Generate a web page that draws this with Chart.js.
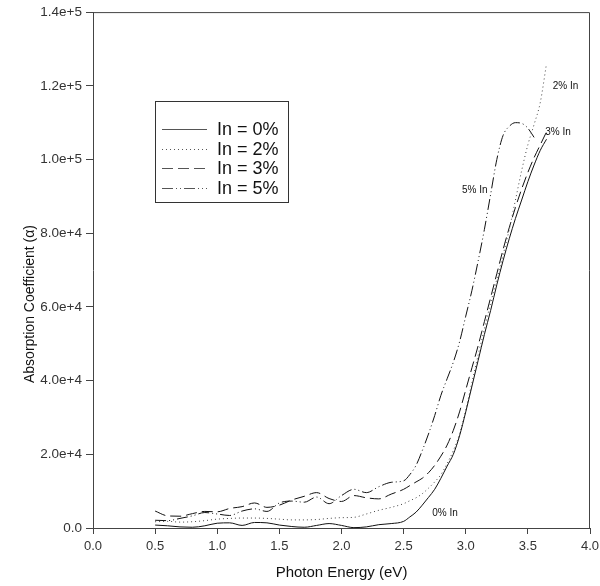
<!DOCTYPE html>
<html>
<head>
<meta charset="utf-8">
<script src="https://cdn.jsdelivr.net/npm/chart.js@4.4.0/dist/chart.umd.min.js"></script>
<style>
    body { margin: 0; background: #fff; }
</style>
</head>
<body>
<canvas id="myChart" width="600" height="586"></canvas>
<script>

var energy = [0.5, 0.6, 0.7, 0.8, 0.9, 1.0, 1.1, 1.2, 1.3, 1.4, 1.5, 1.6, 1.7, 1.8, 1.9, 2.0, 2.1, 2.2, 2.3, 2.4, 2.5,
    2.55, 2.6, 2.65, 2.7, 2.75, 2.8, 2.85, 2.9, 2.95, 3.0, 3.05, 3.1, 3.15, 3.2, 3.25, 3.3, 3.35, 3.4, 3.45, 3.5, 3.55, 3.6, 3.65];

var in0 = [800, 600, 300, 200, 600, 1300, 1400, 700, 1500, 1400, 800, 400, 200, 700, 1200, 700, 100, 300, 900, 1200, 1800,
    3000, 4300, 6200, 8300, 10500, 13500, 16800, 20000, 25000, 31500, 38500, 45500, 52500, 59000, 66000, 72500, 78500, 84000, 89000, 94000, 98500, 102500, 105500];

var in2 = [1700, 1800, 1600, 1700, 2000, 2400, 2600, 2700, 2700, 2600, 2400, 2200, 2200, 2300, 2600, 2800, 2900, 3800, 4800, 5600, 6600,
    7400, 8200, 9300, 10800, 12500, 14500, 17500, 21000, 25500, 32000, 39500, 47000, 54000, 61000, 67500, 74000, 81000, 89000, 97000, 104000, 109500, 115500, 126000];

var in3 = [4600, 3300, 3200, 3900, 4500, 4400, 5300, 5800, 6800, 5600, 6200, 7600, 8600, 9600, 8000, 7200, 8800, 8200, 7900, 9200, 10500,
    11500, 12500, 13500, 15000, 17000, 19500, 22500, 26500, 31500, 37500, 43500, 49500, 56000, 62500, 69000, 75500, 81500, 87000, 92000, 96500, 100500, 104000, 107500];

var in5 = [2100, 2000, 2600, 3300, 4200, 3800, 3400, 4600, 5200, 4500, 6800, 7300, 7000, 8400, 6600, 8800, 10500, 9600, 11200, 12400, 12800,
    14500, 17000, 21000, 25500, 30500, 36000, 40500, 45000, 50500, 57500, 64500, 72500, 81000, 90500, 100000, 106500, 109000, 110000, 109800, 108500, 106000, null, null];

var seriesNames = ['In = 0%', 'In = 2%', 'In = 3%', 'In = 5%'];
var seriesDash = [[], [1, 3], [11, 5], [11, 3, 1, 3, 1, 3]];

// small curve labels, placed in data units
var noteText = ['0% In', '2% In', '3% In', '5% In'];
var noteX = [2.73, 3.70, 3.64, 2.97];
var noteY = [4100, 119900, 107400, 91600];

function points(vals) {
    var pts = [];
    for (var i = 0; i != energy.length; i++) {
        if (vals[i] !== null) pts.push({ x: energy[i], y: vals[i] });
    }
    return pts;
}

var all = [in0, in2, in3, in5];
var datasets = [];
for (var j = 0; j != all.length; j++) {
    datasets.push({
        label: seriesNames[j],
        data: points(all[j]),
        borderColor: j == 1 ? '#444' : '#111',
        borderWidth: 1,
        borderDash: seriesDash[j],
        pointRadius: 0,
        fill: false,
        cubicInterpolationMode: 'monotone'
    });
}

var extras = {
    id: 'extras',
    afterDraw: function (chart) {
        var ctx = chart.ctx;
        var a = chart.chartArea;
        var xs = chart.scales.x;
        var ys = chart.scales.y;
        ctx.save();

        // frame top and right
        ctx.strokeStyle = '#444';
        ctx.lineWidth = 1;
        ctx.beginPath();
        ctx.moveTo(a.left, a.top + 0.5);
        ctx.lineTo(a.right - 0.5, a.top + 0.5);
        ctx.lineTo(a.right - 0.5, a.bottom);
        ctx.stroke();

        // y title
        ctx.fillStyle = '#111';
        ctx.font = '14px "Liberation Sans", Arial, sans-serif';
        ctx.textAlign = 'center';
        ctx.textBaseline = 'middle';
        ctx.translate(30, 304);
        ctx.rotate(-Math.PI / 2);
        ctx.fillText('Absorption Coefficient (\u03b1)', 0, 0);
        ctx.setTransform(1, 0, 0, 1, 0, 0);

        // notes
        ctx.font = '10px "Liberation Sans", Arial, sans-serif';
        ctx.textAlign = 'left';
        for (var i = 0; i != noteText.length; i++) {
            ctx.fillText(noteText[i], xs.getPixelForValue(noteX[i]), ys.getPixelForValue(noteY[i]));
        }

        // legend box
        ctx.strokeStyle = '#333';
        ctx.strokeRect(155.5, 101.5, 133, 101);
        ctx.font = '18px "Liberation Sans", Arial, sans-serif';
        for (var k = 0; k != chart.data.datasets.length; k++) {
            var ds = chart.data.datasets[k];
            var ly = 129 + k * 19.7;
            ctx.strokeStyle = '#555';
            ctx.setLineDash(ds.borderDash);
            ctx.beginPath();
            ctx.moveTo(162, Math.round(ly) + 0.5);
            ctx.lineTo(207, Math.round(ly) + 0.5);
            ctx.stroke();
            ctx.setLineDash([]);
            ctx.fillStyle = '#111';
            ctx.fillText(ds.label, 217, ly + 1);
        }
        ctx.restore();
    }
};

var config = {
    type: 'line',
    data: { datasets: datasets },
    options: {
        responsive: false,
        animation: false,
        layout: { padding: { top: 10, right: 0, left: 0, bottom: 0 } },
        plugins: {
            legend: { display: false },
            tooltip: { enabled: false }
        },
        scales: {
            x: {
                type: 'linear',
                min: 0,
                max: 4,
                ticks: {
                    stepSize: 0.5,
                    color: '#333',
                    font: { size: 13, family: '"Liberation Sans", Arial, sans-serif' },
                    padding: 5,
                    maxRotation: 0,
                    callback: function (v) { return v.toFixed(1); }
                },
                grid: { drawOnChartArea: false, drawTicks: true, tickLength: 6, color: '#444' },
                border: { color: '#444' },
                title: {
                    display: true,
                    text: 'Photon Energy (eV)',
                    color: '#111',
                    font: { size: 15, family: '"Liberation Sans", Arial, sans-serif' },
                    padding: { top: 4, bottom: 4 }
                },
                afterFit: function (s) { s.height = 58; s.paddingRight = 10; s.paddingLeft = 0; }
            },
            y: {
                min: 0,
                max: 140000,
                ticks: {
                    stepSize: 20000,
                    color: '#333',
                    font: { size: 13.5, family: '"Liberation Sans", Arial, sans-serif' },
                    padding: 4,
                    callback: function (v) { return v === 0 ? '0.0' : v.toExponential(1); }
                },
                grid: { drawOnChartArea: false, drawTicks: true, tickLength: 7, color: '#444' },
                border: { color: '#444' },
                afterFit: function (s) { s.width = 93; }
            }
        }
    },
    plugins: [extras]
};

var myChart = new Chart(document.getElementById('myChart'), config);

</script>
</body>
</html>
